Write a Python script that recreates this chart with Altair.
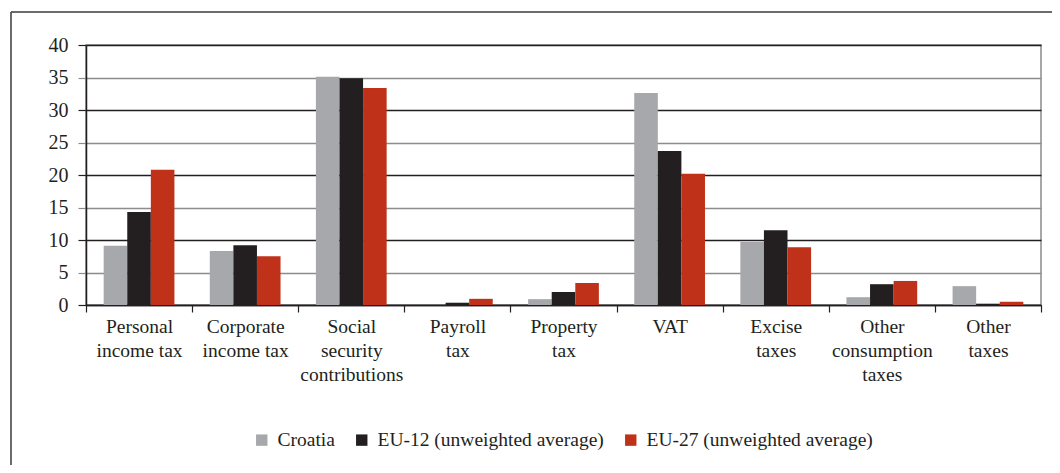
import altair as alt
import pandas as pd

categories = [
    "Personal\nincome tax",
    "Corporate\nincome tax",
    "Social\nsecurity\ncontributions",
    "Payroll\ntax",
    "Property\ntax",
    "VAT",
    "Excise\ntaxes",
    "Other\nconsumption\ntaxes",
    "Other\ntaxes",
]
series = ["Croatia", "EU-12 (unweighted average)", "EU-27 (unweighted average)"]
croatia = [9.1, 8.3, 35.1, 0.0, 0.9, 32.6, 9.7, 1.2, 2.9]
eu12 = [14.3, 9.2, 34.9, 0.35, 2.0, 23.7, 11.5, 3.2, 0.2]
eu27 = [20.8, 7.5, 33.4, 0.95, 3.4, 20.2, 8.9, 3.7, 0.5]
colors = ["#A7A8AB", "#231F20", "#C0311A"]
y_ticks = [0, 5, 10, 15, 20, 25, 30, 35, 40]

rows = []
for s, vals in zip(series, [croatia, eu12, eu27]):
    for c, v in zip(categories, vals):
        rows.append({"category": c, "series": s, "value": v})
df = pd.DataFrame(rows)

FONT = "'Liberation Serif', 'Times New Roman', serif"
INK = "#231F20"

bars = alt.Chart(df).mark_bar().encode(
    x=alt.X(
        "category:N",
        sort=categories,
        scale=alt.Scale(paddingInner=0, paddingOuter=0),
        axis=alt.Axis(
            title=None,
            labelAngle=0,
            labelExpr="split(datum.label, '\\n')",
            labelFont=FONT,
            labelFontSize=19.5,
            labelColor=INK,
            labelLineHeight=24,
            labelPadding=5,
            labelBaseline="top",
            labelLimit=300,
            tickBand="extent",
            tickSize=7,
            tickColor=INK,
            tickWidth=1.2,
            domainColor=INK,
            domainWidth=1.5,
            grid=False,
        ),
    ),
    xOffset=alt.XOffset(
        "series:N",
        sort=series,
        scale=alt.Scale(paddingInner=0, paddingOuter=0.75),
    ),
    y=alt.Y(
        "value:Q",
        scale=alt.Scale(domain=[0, 40], nice=False),
        axis=alt.Axis(
            title=None,
            values=y_ticks,
            labelFont=FONT,
            labelFontSize=20,
            labelColor=INK,
            labelPadding=10,
            tickSize=8,
            tickColor=alt.condition("datum.value % 10 === 0", alt.value(INK), alt.value("#8C8C8C")),
            tickWidth=1.2,
            grid=True,
            gridColor=alt.condition("datum.value % 10 === 0", alt.value(INK), alt.value("#8C8C8C")),
            gridWidth=1.3,
            domainColor=INK,
            domainWidth=1.5,
        ),
    ),
    color=alt.Color(
        "series:N",
        sort=series,
        scale=alt.Scale(domain=series, range=colors),
        legend=alt.Legend(
            title=None,
            orient="none",
            legendX=166,
            legendY=385,
            direction="horizontal",
            symbolType="square",
            symbolSize=130,
            symbolStrokeWidth=0,
            labelFont=FONT,
            labelFontSize=19.5,
            labelColor=INK,
            labelOffset=6,
            labelLimit=400,
            columnPadding=17,
        ),
    ),
)

frame_df = pd.DataFrame({"k": [0]})
frame_top = alt.Chart(frame_df).mark_rule(color="#3a3a3a", strokeWidth=1.5).encode(
    x=alt.value(-75), x2=alt.value(990), y=alt.value(-33)
)
frame_left = alt.Chart(frame_df).mark_rule(color="#3a3a3a", strokeWidth=1.5).encode(
    x=alt.value(-75), y=alt.value(-33), y2=alt.value(440)
)

chart = alt.layer(bars, frame_top, frame_left).properties(
    width=955,
    height=260,
    autosize=alt.AutoSizeParams(type="none"),
    padding={"left": 78, "top": 37, "right": 11, "bottom": 160},
).configure(font=FONT).configure_view(stroke="#8C8C8C", strokeWidth=1.5)

chart.save("out.html", embed_options={"renderer": "svg", "actions": False})
